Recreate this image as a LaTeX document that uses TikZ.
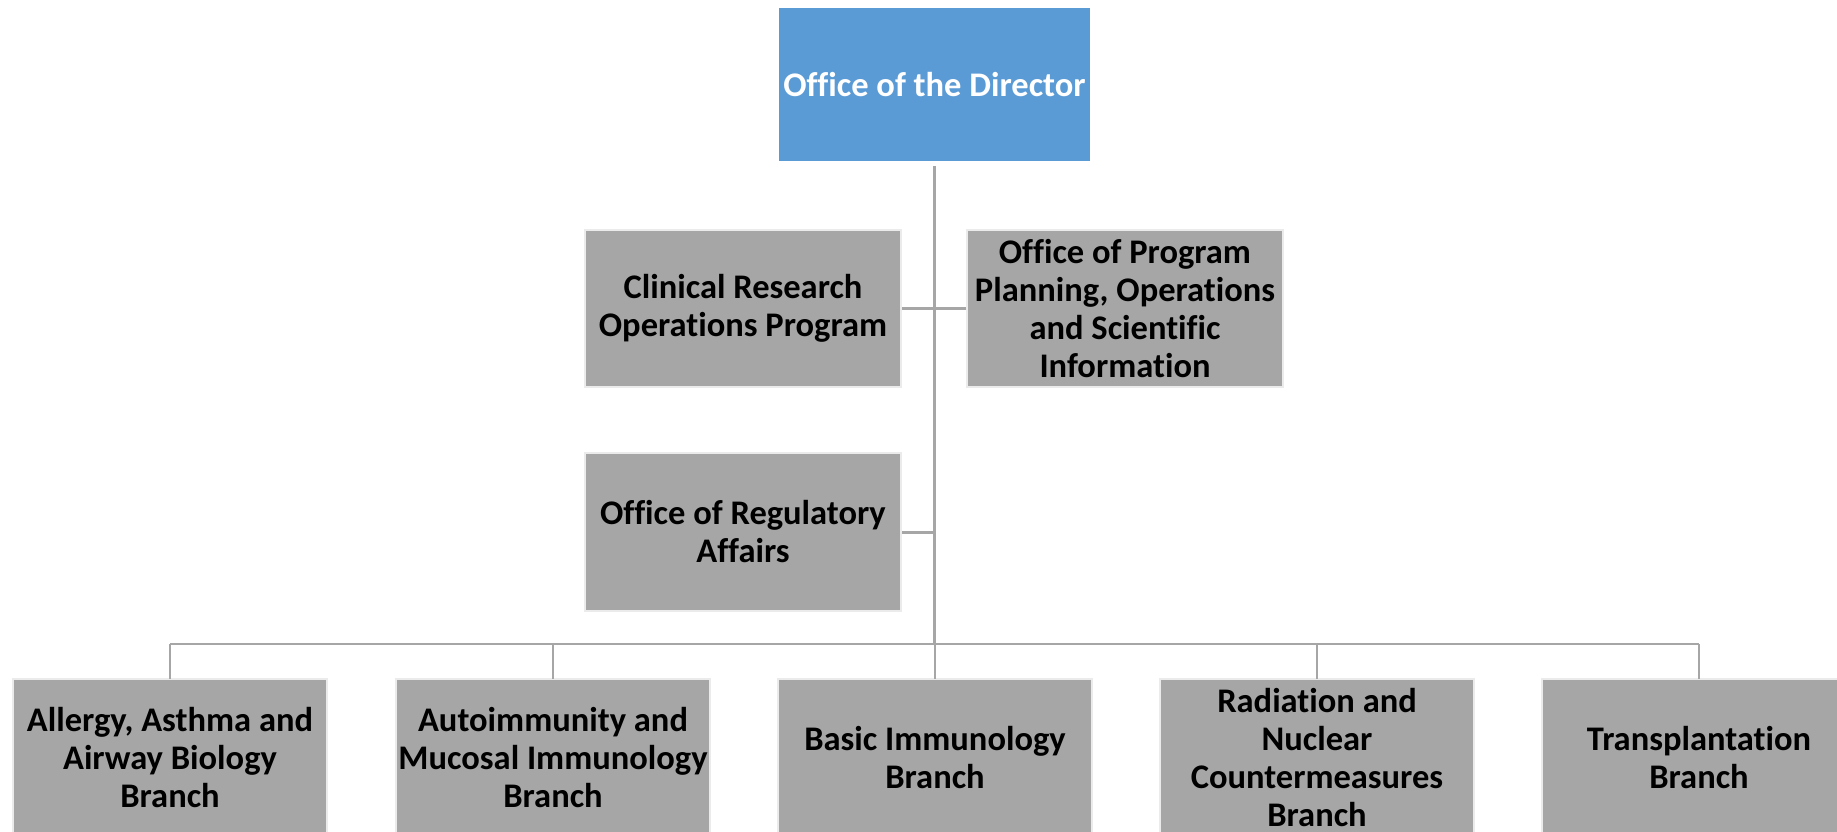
\documentclass[tikz,border=0pt]{standalone}
\usepackage{fontspec}
\setmainfont{Carlito}[Ligatures={NoCommon}]
\definecolor{boxgray}{HTML}{A6A6A6}
\definecolor{dirblue}{HTML}{5B9BD5}
\definecolor{edgegray}{HTML}{EBEBEB}
\definecolor{linegray}{HTML}{A6A6A6}
\begin{document}
\begin{tikzpicture}[x=1pt,y=-1pt,
  unit/.style={rectangle, fill=boxgray, draw=edgegray, line width=2pt,
    inner sep=0pt, minimum width=314pt, minimum height=157pt,
    align=center, font=\fontsize{34.5}{38}\selectfont\bfseries, text=black},
  director/.style={unit, fill=dirblue, draw=white, text=white, minimum width=313pt, minimum height=155pt},
  link/.style={draw=linegray, line width=3pt}]
\clip (0,0) rectangle (1837,831);
\fill[white] (0,0) rectangle (1837,831);

\node[director] (dir) at (934.5,84.5) {Office of the Director};
\node[unit, minimum width=316pt] (cro) at (743,308.5) {Clinical Research\\Operations Program};
\node[unit, minimum width=316pt] (opp) at (1125,308.5) {Office of Program\\Planning, Operations\\and Scientific\\Information};
\node[unit, minimum width=316pt, minimum height=158pt] (ora) at (743,532) {Office of Regulatory\\Affairs};

\node[unit] (b1) at (170,757.5) {Allergy, Asthma and\\Airway Biology\\Branch};
\node[unit] (b2) at (553,757.5) {Autoimmunity and\\Mucosal Immunology\\Branch};
\node[unit] (b3) at (935,757.5) {Basic Immunology\\Branch};
\node[unit] (b4) at (1317,757.5) {Radiation and\\Nuclear\\Countermeasures\\Branch};
\node[unit] (b5) at (1699,757.5) {Transplantation\\Branch};

\coordinate (bus) at (934.5,644);
\coordinate (top) at ([yshift=-3pt]dir.south);

\draw[link] (top) -- (bus);
\draw[link] (cro.east) -- (opp.west);
\draw[link] (ora.east) -- (ora.east -| bus);
\draw[link, line width=2.5pt] (b1.north |- bus) -- (b5.north |- bus);
\foreach \b in {b1,b2,b3,b4,b5}{
  \draw[link, line width=2.5pt] (\b.north |- bus) -- ([yshift=-1pt]\b.north);
}
\end{tikzpicture}
\end{document}
